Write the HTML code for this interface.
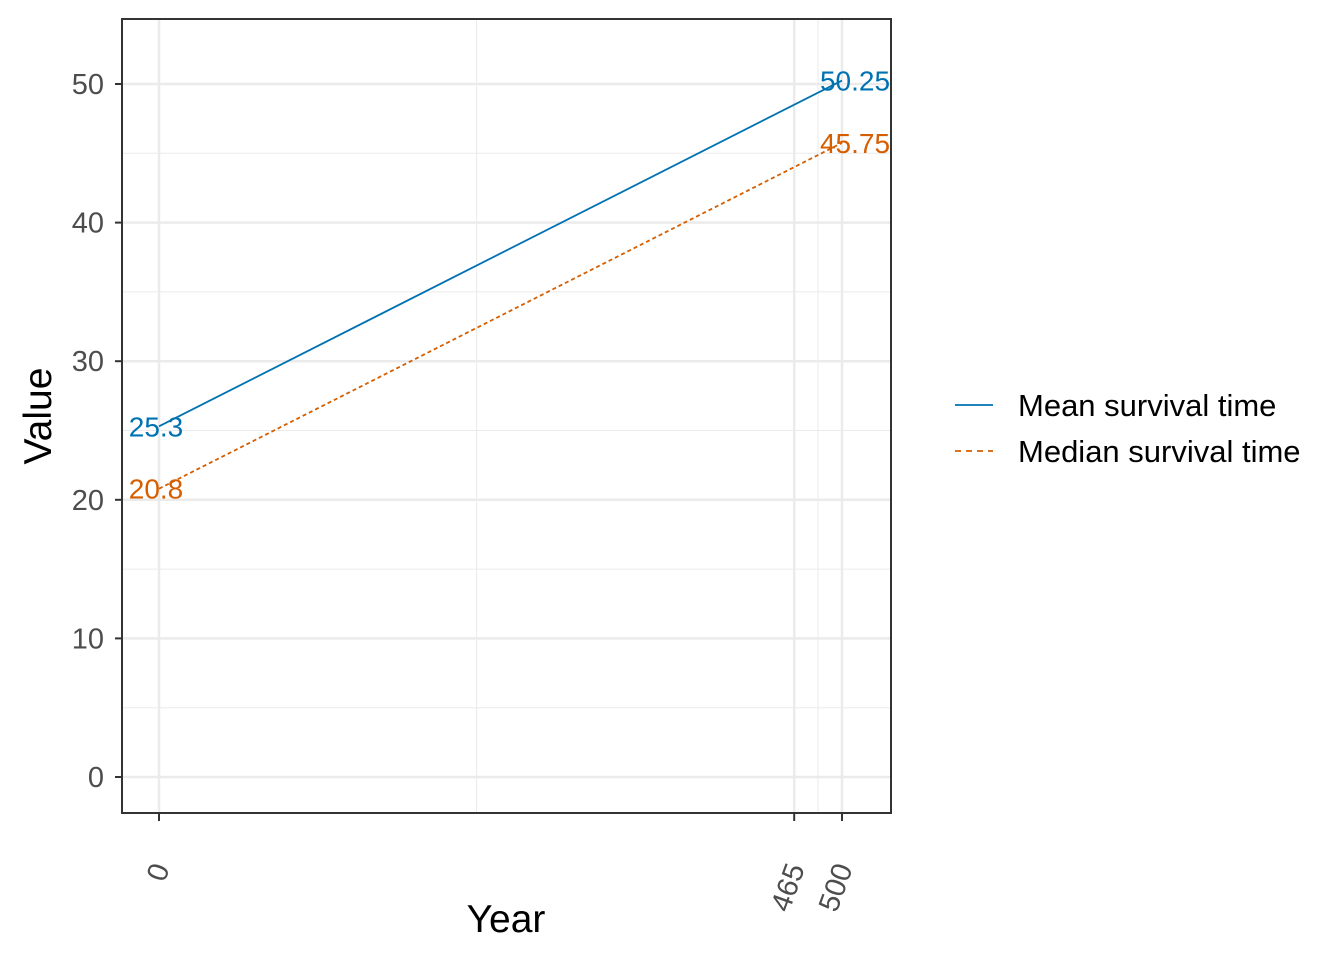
<!DOCTYPE html>
<html><head><meta charset="utf-8"><style>body{margin:0;background:#fff}svg{display:block;font-family:"Liberation Sans",Arial,sans-serif}</style></head>
<body>
<svg id="chart" width="1344" height="960"></svg>
<script>
const xBreaks=[0,465,500];
const xMinor=[232.5,482.5];
const yBreaks=[0,10,20,30,40,50];
const yMinor=[5,15,25,35,45];
const years=[0,500];
const meanVals=[25.3,50.25];
const medianVals=[20.8,45.75];
const meanLabels=["25.3","50.25"];
const medianLabels=["20.8","45.75"];

const NS="http://www.w3.org/2000/svg";
const svg=document.getElementById('chart');
const L=122,R=891,T=19,B=813;
const xs=v=>159+v*(842-159)/500;
const ys=v=>777-v*(777-84)/50;
function mk(tag,attrs,parent){const e=document.createElementNS(NS,tag);for(const k in attrs)e.setAttribute(k,attrs[k]);(parent||svg).appendChild(e);return e;}
const panel=mk('g',{});


yMinor.forEach(v=>{const l=mk('line',{x1:L,x2:R,y1:ys(v),y2:ys(v),stroke:'#ebebeb','stroke-width':1},panel);});
xMinor.forEach(v=>{const l=mk('line',{x1:xs(v),x2:xs(v),y1:T,y2:B,stroke:'#ebebeb','stroke-width':1},panel);});
yBreaks.forEach(v=>{const l=mk('line',{x1:L,x2:R,y1:ys(v),y2:ys(v),stroke:'#ebebeb','stroke-width':2.5},panel);
const tk=mk('line',{x1:L-7,x2:L,y1:ys(v),y2:ys(v),stroke:'#333','stroke-width':2});
const t=mk('text',{x:L-18,y:ys(v)+10,'text-anchor':'end','font-size':29,fill:'#4d4d4d'});t.textContent=v;});
xBreaks.forEach(v=>{const l=mk('line',{x1:xs(v),x2:xs(v),y1:T,y2:B,stroke:'#ebebeb','stroke-width':2.5},panel);
const tk=mk('line',{x1:xs(v),x2:xs(v),y1:B,y2:B+8,stroke:'#333','stroke-width':2});
const ax=xs(v)+11,ay=B+55;
const t=mk('text',{x:ax,y:ay,'text-anchor':'end','font-size':29,fill:'#4d4d4d',transform:`rotate(-70 ${ax} ${ay})`});t.textContent=v;});
function series(vals,labels,color,dash,name){
  const p=mk('polyline',{points:years.map((y,i)=>xs(y)+','+ys(vals[i])).join(' '),fill:'none',stroke:color,'stroke-width':1.8,'stroke-dasharray':dash});
  
  years.forEach((y,i)=>{const t=mk('text',{x:xs(y)-3+(i?16:0),y:ys(vals[i])+10,'text-anchor':'middle','font-size':28,fill:color});t.textContent=labels[i];
  });
}
series(meanVals,meanLabels,'#0072B2','none','mean-survival');
series(medianVals,medianLabels,'#D55E00','4 3','median-survival');
const border=mk('rect',{x:L,y:T,width:R-L,height:B-T,fill:'none',stroke:'#333','stroke-width':2});

const xt=mk('text',{x:506,y:932,'text-anchor':'middle','font-size':39,fill:'#000'});xt.textContent='Year';

const yt=mk('text',{x:51,y:416,'text-anchor':'middle','font-size':39,fill:'#000',transform:'rotate(-90 51 416)'});yt.textContent='Value';

const leg=[['Mean survival time','#0072B2','none',405],['Median survival time','#D55E00','6 5',451]];
leg.forEach(e=>{const g=mk('g',{});
mk('line',{x1:955,x2:993,y1:e[3],y2:e[3],stroke:e[1],'stroke-width':1.8,'stroke-dasharray':e[2]},g);
const t=mk('text',{x:1018,y:e[3]+11,'font-size':31,fill:'#000'},g);t.textContent=e[0];});
</script>
</body></html>
